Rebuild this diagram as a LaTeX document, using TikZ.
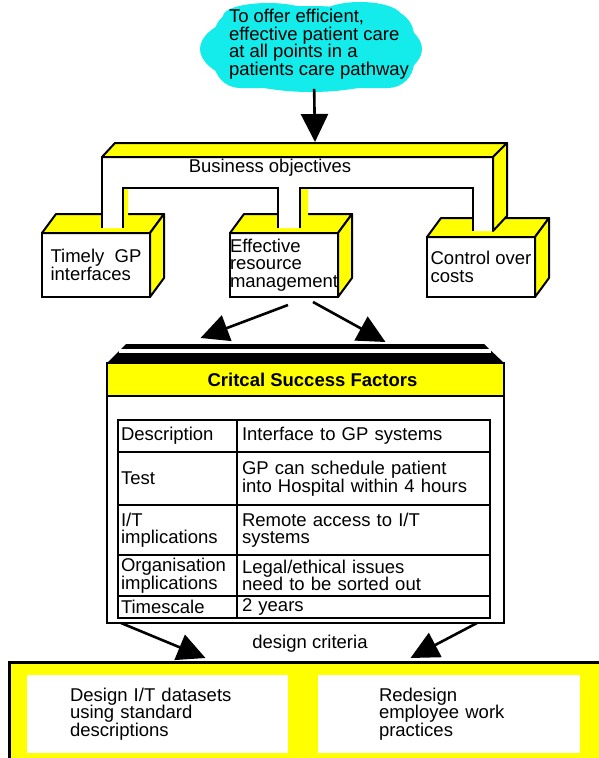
\documentclass[tikz,border=0pt]{standalone}
\usepackage{fontspec}
\setmainfont{Liberation Sans}
\usetikzlibrary{arrows.meta}

\begin{document}
\begin{tikzpicture}[x=1pt,y=-1pt,
  every node/.style={font=\fontsize{18.5}{17.5}\selectfont, inner sep=0pt, outer sep=0pt},
  bigarrow/.style={line width=2.6pt, -{Triangle[length=28pt,width=27pt]}},
  face/.style={fill=ylw, draw=black, line width=2pt, line join=round},
  box/.style={draw, fill=white, line width=2.2pt, minimum width=108pt, align=left, anchor=north west},
  cell/.style={draw, line width=2pt, anchor=north west, align=left}]
  \definecolor{ylw}{RGB}{255,255,0}
  \definecolor{sky}{RGB}{20,235,235}
  \useasboundingbox (0,0) rectangle (599,758);

  % goal cloud
  \fill[sky] (311,49) ellipse[x radius=111, y radius=43];
  \fill[sky, rounded corners=26pt] (214,10) rectangle (414,88);
  \fill[sky] (360,17) ellipse[x radius=42, y radius=15] (268,16) ellipse[x radius=45, y radius=13];
  \node[align=left] (goal) at (319,44) {To offer efficient,\\effective patient care\\at all points in a\\patients care pathway};
  \coordinate (archtop) at (315,142);

  % the three objectives
  \foreach \nm/\xa/\ya/\txt in {tgp/42/233/{Timely\ \ GP\\interfaces}, erm/230/233/{Effective\\resource\\management}, coc/427/237/{Control over\\costs}} {
    \node[box, minimum height={(297-\ya)*1pt}] (\nm) at (\xa,\ya) {\txt};
    \filldraw[face] (\nm.north west) -- ++(14,-19) -- ([shift={(14,-19)}]\nm.north east) -- (\nm.north east) -- cycle;
    \filldraw[face] (\nm.north east) -- ++(14,-19) -- ([shift={(14,-19)}]\nm.south east) -- (\nm.south east) -- cycle;
  }

  % business objectives arch
  \fill[white] (102,157) -- (493,157) -- (493,231) -- (473,231) -- (473,188) -- (300,188) -- (300,228) -- (278,228)
    -- (278,188) -- (123,188) -- (123,228) -- (102,228) -- cycle;
  \fill[ylw] (123,188) rectangle (128,228) (300,188) rectangle (308,228);
  \draw[line width=2.2pt] (102,228) -- (102,157) -- (493,157) -- (493,231) (473,231) -- (473,188) -- (300,188) -- (300,228)
    (278,228) -- (278,188) -- (123,188) -- (123,228);
  \filldraw[face] (102,157) -- (115,143) -- (507,143) -- (493,157) -- cycle;
  \filldraw[face] (493,157) -- (507,143) -- (507,216) -- (493,231) -- cycle;
  \node (bus) at (270,168) {Business objectives};

  \draw[bigarrow, shorten <=10pt] ([xshift=-5pt]goal.south) -- (archtop);

  % critical success factors
  \node[draw, line width=2.4pt, minimum width=397pt, minimum height=260pt, anchor=north west] (csfbox) at (107,363) {};
  \node[draw, fill=ylw, line width=2pt, minimum width=397pt, minimum height=33pt, anchor=north west,
        font=\fontsize{18.5}{17.5}\selectfont\bfseries] (csf) at (107,363) {\hspace{14pt}Critcal Success Factors};
  \fill (csf.north west) -- (126,344) -- (484,344) -- (csf.north east) -- cycle;
  \fill[white] (119,349) rectangle (491,353);

  \foreach \ya/\yb/\lft/\rgt/\rn in {420/452/Description/{Interface to GP systems}/1,
      452/505/Test/{GP can schedule patient\\into Hospital within 4 hours}/2,
      505/555/{I/T\\implications}/{Remote access to I/T\\systems}/3,
      555/596/{Organisation\\implications}/{Legal/ethical issues\\need to be sorted out}/4,
      596/618/Timescale/{2 years}/5} {
    \node[cell, minimum width=119pt, text width=113pt, minimum height={(\yb-\ya)*1pt}] (l\rn) at (118,\ya) {\lft};
    \node[cell, minimum width=253pt, text width=243pt, minimum height={(\yb-\ya)*1pt}] (r\rn) at (237,\ya) {\rgt};
  }

  \draw[bigarrow] ([shift={(4,8)}]erm.south) -- ([shift={(-105,-25)}]csf.north);
  \draw[bigarrow] ([shift={(29,5)}]erm.south) -- ([shift={(80,-21)}]csf.north);

  % design criteria
  \node[draw, fill=ylw, line width=3pt, minimum width=601pt, minimum height=110pt, anchor=north west] (acts) at (9,662) {};
  \node[fill=white, minimum width=261pt, minimum height=78pt, text width=175pt, align=left, anchor=north west] (dset) at (27,675)
    {Design I/T datasets\\using standard\\descriptions};
  \node[fill=white, minimum width=262pt, minimum height=78pt, text width=140pt, align=left, anchor=north west] (work) at (318,675)
    {Redesign\\employee work\\practices};
  \node (crit) at (310,644) {design criteria};

  \draw[bigarrow] ([xshift=14pt]csfbox.south west) -- ([shift={(-104,-4)}]acts.north);
  \draw[bigarrow] ([xshift=-27pt]csfbox.south east) -- ([shift={(101,-4)}]acts.north);
\end{tikzpicture}
\end{document}
